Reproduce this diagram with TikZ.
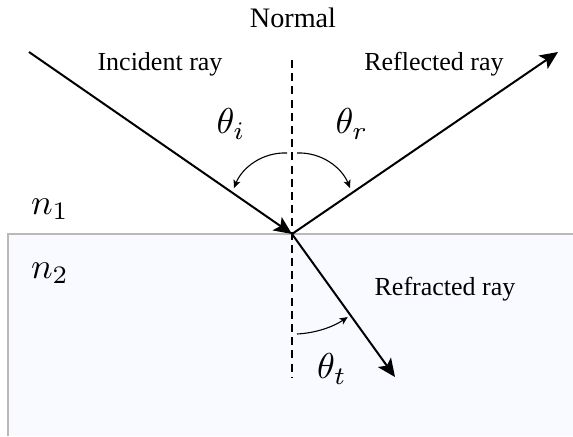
\RequirePackage{fix-cm}
\documentclass[tikz,border=0pt]{standalone}
\usepackage{fontspec}
\setmainfont{Liberation Serif}
\usetikzlibrary{arrows.meta}
\definecolor{mediumfill}{RGB}{248,250,255}
\definecolor{edgegray}{RGB}{185,185,185}
\tikzset{
  lbl/.style={inner sep=0pt, font=\fontsize{13}{15}\selectfont},
  mlbl/.style={inner sep=0pt, font=\fontsize{10}{12}\selectfont, scale=1.8},
  ray/.style={line width=1pt, -{Stealth[length=9pt,width=8pt,inset=2pt]}},
  anglearc/.style={line width=0.55pt, -{Stealth[length=4pt,width=3.6pt,inset=1pt]}},
  normalline/.style={line width=0.75pt, dash pattern=on 4pt off 2.6pt}
}
\begin{document}
\begin{tikzpicture}[x=0.5pt,y=-0.5pt]
\useasboundingbox (0,0) rectangle (573,436);
% medium 2
\fill[mediumfill] (8,234) rectangle (573,436);
\draw[edgegray, line width=0.6pt] (8,436) -- (8,234) -- (573,234);
% key points
\coordinate (O) at (292,234);
\coordinate (Istart) at (29,52);
\coordinate (Rend) at (558,52);
\coordinate (Tend) at (395,377);
\coordinate (Ntop) at (292,60);
\coordinate (Nbot) at (292,377);
\coordinate (Ai1) at (287,153);
\coordinate (Ai2) at (234,188);
\coordinate (Ar1) at (297,153);
\coordinate (Ar2) at (350,188);
\coordinate (At1) at (297,334);
% normal
\draw[normalline] (Ntop) -- (Nbot);
% rays
\draw[ray] (Istart) -- (O);
\draw[ray] (O) -- (Rend);
\draw[ray] (O) -- (Tend);
% angle arcs
\draw[anglearc] (Ai1) .. controls (262,152) and (242,168) .. (Ai2);
\draw[anglearc] (Ar1) .. controls (322,152) and (342,168) .. (Ar2);
\draw[anglearc] (At1) arc[start angle=87, end angle=56, radius=100];
% labels
\node[lbl, font=\fontsize{14.1}{16}\selectfont] (normal) at (293,18) {Normal};
\node[lbl] (inc) at (160,64) {Incident ray};
\node[lbl] (refl) at (434,64) {Reflected ray};
\node[lbl] (refr) at (445,289) {Refracted ray};
\node[mlbl] (thi) at (231,124) {$\theta_i$};
\node[mlbl] (thr) at (352,124) {$\theta_r$};
\node[mlbl] (tht) at (332,369) {$\theta_t$};
\node[mlbl] (n1) at (50,209) {$n_1$};
\node[mlbl] (n2) at (50,273) {$n_2$};
\end{tikzpicture}
\end{document}
